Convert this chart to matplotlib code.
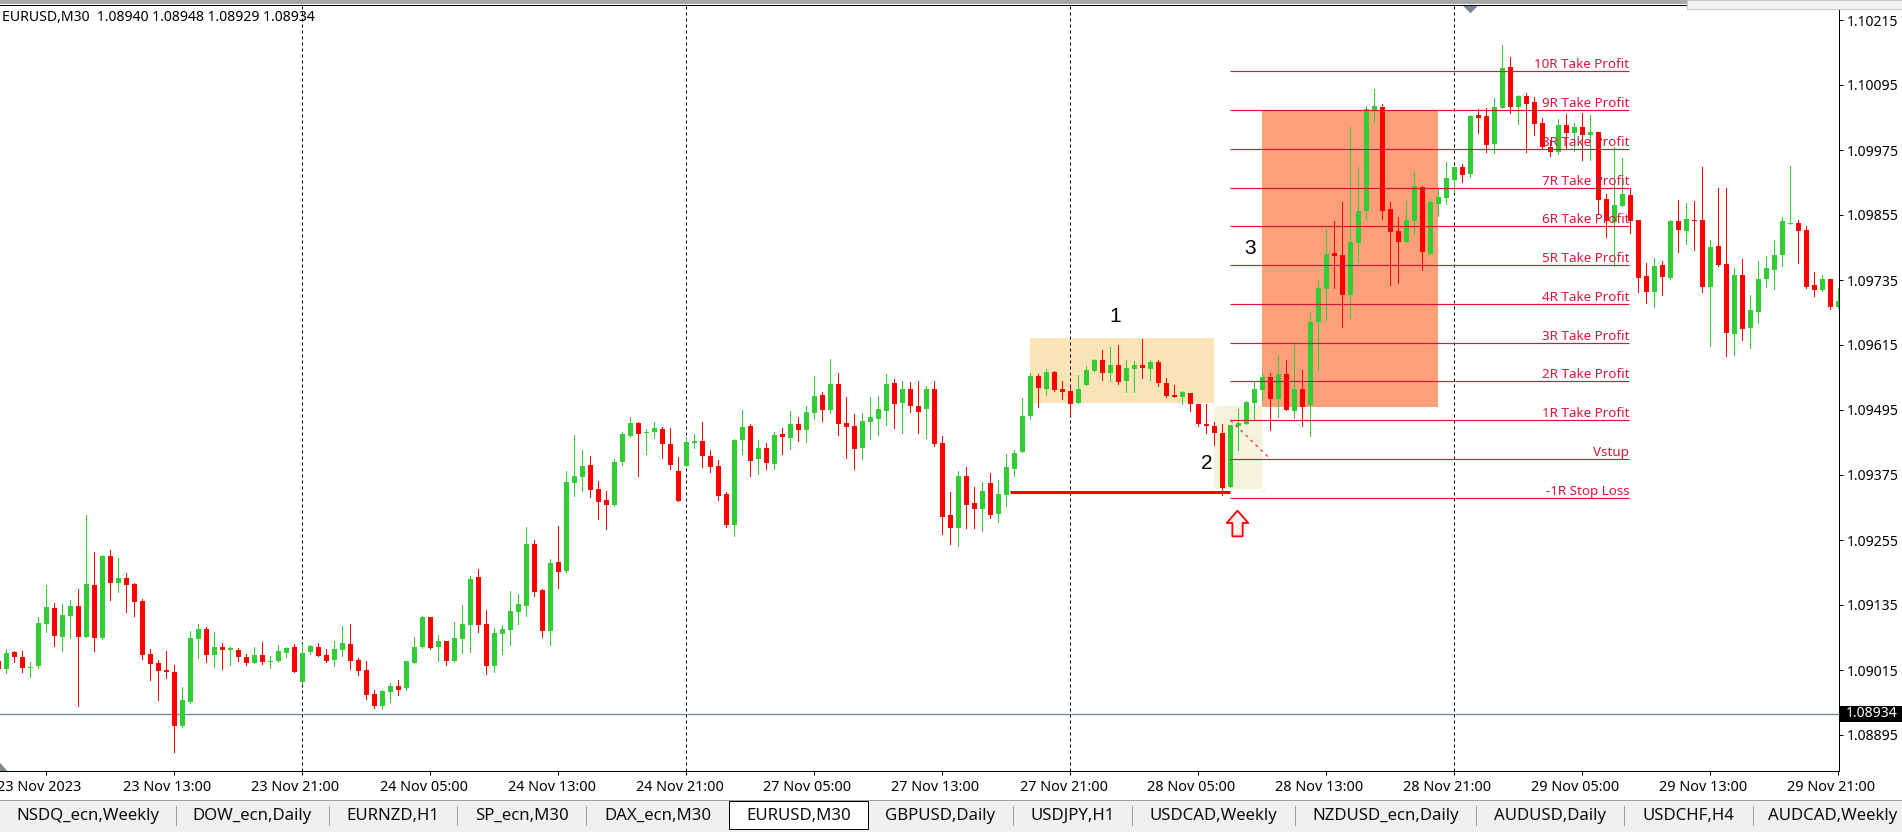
import numpy as np
import matplotlib
matplotlib.use("Agg")
import matplotlib.pyplot as plt
from matplotlib.patches import Rectangle, Polygon
from matplotlib.path import Path

# EURUSD M30 candles, in points (price * 100000)
opens = [109032,
    109017,109048,109039,109019,109022,109100,109129,109076,109115,109133,
    109076,109172,109074,109225,109176,109185,109174,109142,109045,109028,
    109015,109011,108912,108956,109072,109091,109043,109057,109052,109052,
    109039,109028,109043,109030,109032,109046,109057,108993,109048,109057,
    109043,109033,109052,109063,109033,109015,108971,108949,108974,108985,
    108982,109028,109057,109113,109057,109069,109032,109072,109098,109187,
    109100,109022,109081,109089,109122,109133,109248,109163,109087,109214,
    109198,109360,109371,109393,109349,109329,109320,109399,109447,109471,
    109452,109454,109460,109432,109382,109391,109434,109437,109410,109391,
    109340,109282,109440,109465,109404,109425,109395,109450,109443,109469,
    109458,109489,109522,109495,109543,109471,109465,109425,109473,109478,
    109493,109545,109508,109534,109502,109497,109534,109434,109301,109277,
    109373,109323,109312,109360,109303,109338,109386,109417,109484,109558,
    109534,109565,109534,109530,109508,109541,109567,109587,109563,109578,
    109548,109571,109578,109571,109584,109545,109522,109519,109526,109506,
    109470,109465,109452,109353,109465,109469,109508,109532,109556,109515,
    109561,109493,109533,109504,109658,109718,109785,109781,109707,109803,
    109862,110049,110054,109866,109825,109805,109844,109907,109783,109875,
    109886,109919,109943,109931,110039,110038,109986,110052,110128,110054,
    110075,110064,110025,109981,109972,110022,110007,110018,110003,110009,
    109885,109843,109872,109892,109846,109743,109713,109763,109739,109844,
    109826,109846,109846,109723,109798,109765,109636,109745,109647,109676,
    109736,109754,109782,109839,109841,109828,109726,109717,109736,109686]
highs = [109032,
    109054,109050,109050,109030,109113,109172,109139,109137,109144,109165,
    109301,109233,109227,109236,109222,109194,109176,109146,109054,109033,
    109050,109024,108984,109087,109100,109094,109085,109065,109057,109056,
    109045,109057,109067,109041,109061,109057,109063,109063,109061,109065,
    109054,109069,109096,109100,109037,109032,108978,108978,108991,108997,
    109032,109076,109115,109113,109080,109069,109104,109135,109188,109201,
    109126,109093,109098,109161,109155,109279,109255,109165,109220,109281,
    109382,109449,109421,109410,109364,109345,109404,109454,109482,109473,
    109460,109473,109463,109461,109408,109446,109450,109473,109421,109402,
    109343,109441,109495,109469,109440,109434,109454,109461,109493,109482,
    109502,109558,109528,109589,109563,109519,109487,109489,109519,109521,
    109561,109552,109548,109547,109548,109539,109548,109447,109343,109382,
    109389,109353,109362,109379,109366,109414,109421,109517,109563,109561,
    109571,109567,109548,109537,109559,109576,109589,109606,109611,109615,
    109587,109585,109626,109587,109587,109554,109541,109530,109526,109507,
    109506,109473,109469,109467,109497,109511,109548,109565,109563,109597,
    109587,109619,109569,109676,109735,109829,109844,109879,110017,109943,
    110056,110087,110060,109879,109851,109879,109934,109908,109884,109903,
    109953,109943,109949,110039,110051,110052,110071,110169,110147,110076,
    110081,110073,110035,109994,110033,110042,110025,110044,110040,110009,
    109894,109981,109961,109904,109846,109767,109776,109771,109846,109883,
    109878,109880,109944,109809,109904,109905,109758,109774,109708,109771,
    109780,109808,109852,109946,109846,109835,109750,109745,109736,109721]
lows = [109017,
    109009,109030,109011,109002,109019,109085,109059,109050,109074,108949,
    109076,109050,109072,109144,109159,109122,109115,109035,108997,108960,
    109000,108864,108910,108954,109037,109030,109021,109017,109024,109032,
    109024,109028,109026,109019,109030,109039,109011,108989,109045,109041,
    109030,109022,109041,109017,109006,108961,108945,108943,108956,108969,
    108978,109028,109056,109054,109032,109024,109030,109046,109048,109085,
    109008,109011,109045,109061,109100,109115,109152,109076,109061,109166,
    109196,109336,109345,109334,109294,109275,109318,109393,109445,109373,
    109414,109443,109406,109387,109327,109391,109425,109389,109380,109329,
    109279,109262,109414,109373,109377,109386,109386,109414,109423,109437,
    109436,109478,109474,109489,109449,109406,109386,109404,109441,109449,
    109467,109461,109452,109491,109452,109443,109429,109266,109248,109244,
    109277,109277,109272,109296,109288,109318,109373,109417,109478,109501,
    109522,109530,109515,109482,109508,109541,109567,109550,109548,109543,
    109528,109528,109554,109550,109539,109519,109519,109506,109493,109465,
    109453,109430,109338,109353,109421,109469,109476,109513,109458,109482,
    109495,109480,109465,109447,109569,109661,109720,109649,109667,109770,
    109846,110027,109848,109726,109729,109805,109820,109753,109783,109853,
    109875,109897,109916,109925,110006,109971,109969,110052,110043,110023,
    109972,110003,109977,109963,109968,109979,109974,109957,109957,109856,
    109815,109760,109872,109822,109713,109693,109686,109708,109736,109787,
    109802,109791,109712,109614,109761,109595,109597,109625,109610,109656,
    109723,109719,109760,109839,109767,109721,109706,109715,109682,109683]
closes = [109017,
    109046,109039,109019,109021,109102,109131,109078,109117,109133,109076,
    109174,109074,109225,109176,109185,109172,109141,109043,109026,109013,
    109011,108912,108960,109074,109091,109043,109057,109052,109056,109039,
    109028,109043,109030,109032,109050,109056,109011,109046,109059,109041,
    109032,109054,109065,109032,109013,108969,108949,108976,108985,108978,
    109032,109057,109113,109056,109069,109032,109074,109100,109183,109098,
    109022,109083,109091,109124,109137,109248,109159,109087,109212,109196,
    109362,109373,109392,109347,109325,109320,109399,109450,109471,109450,
    109454,109461,109432,109393,109327,109436,109437,109410,109389,109336,
    109282,109440,109463,109401,109425,109397,109449,109445,109469,109458,
    109491,109521,109495,109543,109469,109463,109423,109474,109482,109497,
    109543,109506,109534,109502,109491,109534,109432,109298,109277,109373,
    109320,109312,109345,109301,109340,109389,109416,109484,109558,109536,
    109565,109532,109528,109506,109534,109569,109587,109563,109578,109546,
    109572,109578,109572,109584,109545,109521,109519,109528,109506,109469,
    109465,109452,109351,109467,109471,109510,109533,109556,109515,109561,
    109495,109533,109500,109657,109720,109783,109779,109707,109805,109862,
    110051,110056,109862,109824,109805,109846,109908,109787,109879,109888,
    109923,109943,109929,110038,110034,109984,110054,110126,110054,110075,
    110060,110023,109981,109972,110022,110007,110018,110003,110009,109883,
    109844,109874,109894,109844,109739,109712,109761,109741,109844,109828,
    109848,109844,109723,109796,109763,109638,109745,109645,109680,109737,
    109758,109782,109843,109841,109826,109723,109717,109736,109686,109697]

price_ticks = [1.10215, 1.10095, 1.09975, 1.09855, 1.09735, 1.09615,
               1.09495, 1.09375, 1.09255, 1.09135, 1.09015, 1.08895]
time_labels = ["23 Nov 2023", "23 Nov 13:00", "23 Nov 21:00", "24 Nov 05:00", "24 Nov 13:00",
               "24 Nov 21:00", "27 Nov 05:00", "27 Nov 13:00", "27 Nov 21:00", "28 Nov 05:00",
               "28 Nov 13:00", "28 Nov 21:00", "29 Nov 05:00", "29 Nov 13:00", "29 Nov 21:00"]
time_label_bars = list(range(5, 230, 16))
period_sep_bars = [37, 85, 133, 181]

level_names = ["10R Take Profit", "9R Take Profit", "8R Take Profit", "7R Take Profit",
               "6R Take Profit", "5R Take Profit", "4R Take Profit", "3R Take Profit",
               "2R Take Profit", "1R Take Profit", "Vstup", "-1R Stop Loss"]
level_prices = [1.10120, 1.10048, 1.09976, 1.09904, 1.09834, 1.09762,
                1.09690, 1.09618, 1.09548, 1.09476, 1.09404, 1.09332]
level_start, level_end = 153, 202.85

last_price = 1.08934
header = "EURUSD,M30  1.08940 1.08948 1.08929 1.08934"

tab_names = ["NSDQ_ecn,Weekly", "DOW_ecn,Daily", "EURNZD,H1", "SP_ecn,M30", "DAX_ecn,M30",
             "EURUSD,M30", "GBPUSD,Daily", "USDJPY,H1", "USDCAD,Weekly", "NZDUSD_ecn,Daily",
             "AUDUSD,Daily", "USDCHF,H4", "AUDCAD,Weekly"]
tab_edges = [0, 176, 329, 457, 586, 729, 868, 1013, 1132, 1295, 1476, 1624, 1753, 1902]

W, H = 1902, 832
FONT = "Noto Sans"
GREEN, RED, CRIMSON = "#32CD32", "#FF0000", "#DC143C"
GREY = "#778899"
PX = 0.72  # one pixel in points

fig = plt.figure(figsize=(W / 100, H / 100), dpi=100, facecolor="white")


def fig_rect(x0, y0, x1, y1, color, edge="none", z=0):
    fig.add_artist(Rectangle((x0 / W, 1 - y1 / H), (x1 - x0) / W, (y1 - y0) / H, transform=fig.transFigure,
                             facecolor=color, edgecolor=edge, linewidth=PX, zorder=z))


def price_box(i0, i1, top, bottom, color):
    ax.add_patch(Rectangle((i0, bottom), i1 - i0, top - bottom, facecolor=color, edgecolor="none", zorder=1))


ax_top, ax_bottom, ax_right = 4.5, 771, 1839
ax = fig.add_axes([0, 1 - ax_bottom / H, ax_right / W, (ax_bottom - ax_top) / H])
ax.set_xlim(-6.5 / 8, (ax_right - 6.5) / 8)
px_price = 0.0012 / 65
ax.set_ylim(1.10215 - (ax_bottom - 20) * px_price, 1.10215 + (20 - ax_top) * px_price)

bars = np.arange(len(opens)) - 1
o = np.array(opens) / 1e5
h = np.array(highs) / 1e5
l = np.array(lows) / 1e5
c = np.array(closes) / 1e5
up = c >= o
colors = np.where(up, GREEN, RED)

# setup boxes behind everything
price_box(128, 151, 1.09628, 1.09508, "#FDE3B8")
price_box(157, 179, 1.10049, 1.09501, "#FFA07A")
price_box(151, 157, 1.09502, 1.09349, "#F4F4DC")
ax.plot([151, 151, 157], [1.09502, 1.09349, 1.09349], ls="none", marker="s", ms=3.5, mfc="white",
        mec="#F4F4DC", mew=0.7, zorder=1.5)

for b in period_sep_bars:
    ax.axvline(b, color="black", lw=PX, ls=(0, (3, 3)), zorder=2)
ax.axhline(last_price, color=GREY, lw=1.0, zorder=2)

ax.vlines(bars, l, h, colors=colors, lw=PX, zorder=3, antialiased=False)
ax.bar(bars, np.maximum(np.abs(c - o), 0.00002), bottom=np.minimum(o, c), width=0.65, color=colors,
       linewidth=0, zorder=3.1, antialiased=False)

# R levels
ax.hlines(level_prices, level_start, level_end, colors=CRIMSON, lw=PX * 1.2, zorder=4)
for name, price in zip(level_names, level_prices):
    ax.annotate(name, (level_end, price), xytext=(0, 0.4), textcoords="offset points", ha="right", va="bottom",
                color=CRIMSON, fontsize=9.7, family=FONT, zorder=5)

ax.plot([125.4, 153], [1.09343, 1.09343], color=RED, lw=3 * PX, solid_capstyle="butt", zorder=4)
ax.plot([153, 157.8], [1.09476, 1.09407], color=RED, lw=PX, ls=(0, (3, 4)), zorder=4)

# entry arrow
arrow = Path([(0, 0.5), (0.42, 0.02), (0.2, 0.02), (0.2, -0.5), (-0.2, -0.5), (-0.2, 0.02), (-0.42, 0.02), (0, 0.5)],
             closed=True)
ax.plot([153.85], [1.09287], marker=arrow, ms=18.5, mfc="#FFF0F0", mec=RED, mew=1.3, ls="none", zorder=5)

ax.text(138.6, 1.09667, "1", fontsize=15, family="Liberation Sans", ha="center", va="center", zorder=6)
ax.text(155.5, 1.09794, "3", fontsize=15, family="Liberation Sans", ha="center", va="center", zorder=6)
ax.text(150, 1.09397, "2", fontsize=15, family="Liberation Sans", ha="center", va="center", zorder=6)

# chart shift markers
shift_mark = Path([(-0.5, 0.25), (0.5, 0.25), (0, -0.25), (-0.5, 0.25)], closed=True)
ax.plot([183], [1 - 4 / 766.5], ls="none", marker=shift_mark, ms=11, color=GREY, transform=ax.get_xaxis_transform(),
        clip_on=False, zorder=6, markeredgewidth=0)
ax.add_patch(Polygon([(0, 0), (0.0035, 0), (0, 0.0095)], closed=True, transform=ax.transAxes, color=GREY, zorder=6))

ax.annotate(header, (0, 1), xycoords="axes fraction", xytext=(1.5, -12), textcoords="offset points",
            va="baseline", ha="left", fontsize=10.1, family=FONT, zorder=6)

# axes
for s in ["left"]:
    ax.spines[s].set_visible(False)
for s in ["right", "bottom", "top"]:
    ax.spines[s].set_linewidth(PX)
    ax.spines[s].set_zorder(7)
ax.yaxis.tick_right()
ax.set_yticks(price_ticks)
ax.set_yticklabels(["%.5f" % p for p in price_ticks], family=FONT, fontsize=10.1)
ax.tick_params(axis="y", length=3, width=PX, pad=2.4)
for label in ax.get_yticklabels():
    label.set_y(label.get_position()[1])
ax.set_xticks(time_label_bars)
ax.set_xticklabels([])
ax.tick_params(axis="x", length=3, width=PX)
for b, label in zip(time_label_bars, time_labels):
    ax.annotate(label, (b, 0), xycoords=ax.get_xaxis_transform(), xytext=(-5, -6.5), textcoords="offset points",
                ha="center", va="top", fontsize=10.4, family=FONT, annotation_clip=False)

# current price tag
ax.add_patch(Rectangle((1.0007, last_price - 8 * px_price), (W - ax_right) / ax_right, 16 * px_price, facecolor="black",
                       edgecolor="none", transform=ax.get_yaxis_transform(), clip_on=False, zorder=8))
ax.annotate("%.5f" % last_price, (1, last_price), xycoords=ax.get_yaxis_transform(), xytext=(5, 0),
            textcoords="offset points", va="center", ha="left", color="white", fontsize=10.1, family=FONT,
            annotation_clip=False, zorder=9)

# terminal chrome
fig_rect(0, 0, W, 4, "#A8A8A8", z=5)
fig_rect(1687, 0, W, 9, "#F2F2F2", edge="#C8C8C8", z=6)
fig_rect(0, 800, W, H, "#F0F0F0", z=1)
fig_rect(0, 800, W, 801, "#A0A0A0", z=2)
for edge in tab_edges[1:-1]:
    fig_rect(edge, 806, edge + 1, 826, "#A0A0A0", z=2)
fig_rect(tab_edges[5], 801, tab_edges[6], 829, "white", edge="black", z=3)
for k, name in enumerate(tab_names[:-1]):
    fig.text((tab_edges[k] + tab_edges[k + 1]) / 2 / W, 1 - 816 / H, name, ha="center", va="center",
             fontsize=12.1, family=FONT, color="#101010", zorder=4)
fig.text(1768 / W, 1 - 816 / H, tab_names[-1], ha="left", va="center", fontsize=12.1, family=FONT,
         color="#101010", zorder=4)

fig.savefig("out.png", dpi=100)
